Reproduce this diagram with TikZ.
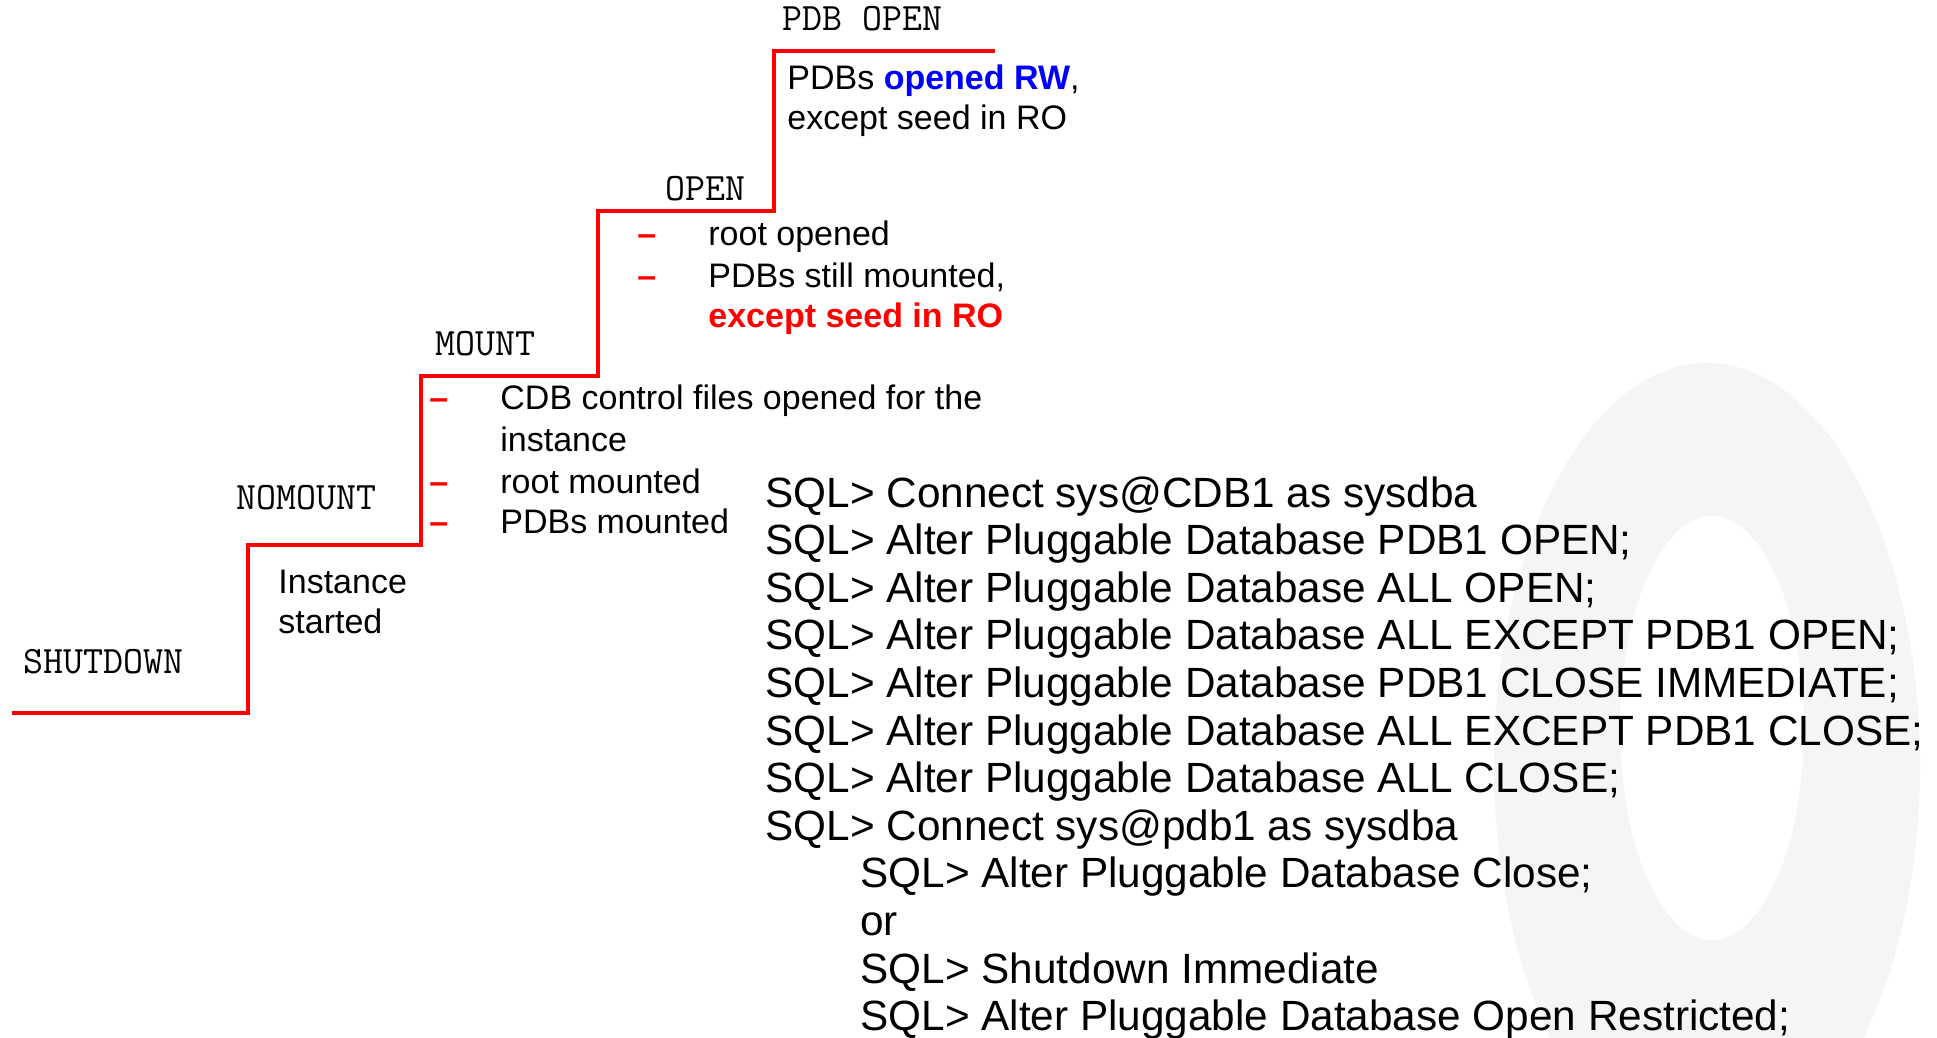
\documentclass[tikz,border=0pt]{standalone}
\usepackage{fontspec}
\setmainfont{Liberation Sans}
\usetikzlibrary{positioning}

\begin{document}
\begin{tikzpicture}[
    x=0.5pt, y=-0.5pt,
    stair/.style={draw=red, line width=1.75pt},
    stage/.style={anchor=base west, inner sep=0pt, font=\ttfamily\fontsize{19.4}{22}\selectfont},
    note/.style={anchor=base west, inner sep=0pt, font=\fontsize{17}{20}\selectfont},
    bullet/.style={note, text=red, font=\fontsize{17}{20}\selectfont\bfseries},
    sql/.style={anchor=base west, inner sep=0pt, font=\fontsize{21.15}{24}\selectfont},
    logo/.style={fill=black!4, draw=none, even odd rule}
  ]
    \useasboundingbox (0,0) rectangle (1937,1038);

    % faint watermark behind the commands
    \fill[logo] (1707,765) ellipse [x radius=213, y radius=402]
                (1712,728) ellipse [x radius=92, y radius=212];

    % the staircase
    \coordinate (s0) at (12,713);
    \coordinate (s1) at (248,713);
    \coordinate (s2) at (248,545);
    \coordinate (s3) at (421,545);
    \coordinate (s4) at (421,376);
    \coordinate (s5) at (598,376);
    \coordinate (s6) at (598,211);
    \coordinate (s7) at (774,211);
    \coordinate (s8) at (774,51);
    \coordinate (s9) at (995,51);
    \draw[stair] (s0) -- (s1) -- (s2) -- (s3) -- (s4) -- (s5) -- (s6) -- (s7) -- (s8) -- (s9);

    % stage names
    \node[stage] (shutdown) at (23,673) {SHUTDOWN};
    \node[stage] (nomount) at (236,509) {NOMOUNT};
    \node[stage] (mount) at (435,355) {MOUNT};
    \node[stage] (open) at (665,200) {OPEN};
    \node[stage] (pdbopen) at (782,31) {PDB OPEN};

    % nomount
    \node[note] (inst1) at (278,593) {Instance};
    \node[note] (inst2) at (278,633) {started};

    % mount
    \node[bullet] (md1) at (429,409) {--};
    \node[note] (mt1) at (500,409) {CDB control files opened for the};
    \node[note] (mt2) at (500,451) {instance};
    \node[bullet] (md3) at (429,493) {--};
    \node[note] (mt3) at (500,493) {root mounted};
    \node[bullet] (md4) at (429,533) {--};
    \node[note] (mt4) at (500,533) {PDBs mounted};

    % open
    \node[bullet] (od1) at (637,245) {--};
    \node[note] (ot1) at (708,245) {root opened};
    \node[bullet] (od2) at (637,287) {--};
    \node[note] (ot2) at (708,287) {PDBs still mounted,};
    \node[note, text=red, font=\fontsize{17}{20}\selectfont\bfseries] (ot3) at (708,327) {except seed in RO};

    % pdb open
    \node[note] (pt1) at (787,90) {PDBs \textcolor{blue}{\bfseries opened RW},};
    \node[note] (pt2) at (787,130) {except seed in RO};

    % commands
    \foreach \cmd [count=\i from 0] in {
        SQL> Connect sys@CDB1 as sysdba,
        SQL> Alter Pluggable Database PDB1 OPEN;,
        SQL> Alter Pluggable Database ALL OPEN;,
        SQL> Alter Pluggable Database ALL EXCEPT PDB1 OPEN;,
        SQL> Alter Pluggable Database PDB1 CLOSE IMMEDIATE;,
        SQL> Alter Pluggable Database ALL EXCEPT PDB1 CLOSE;,
        SQL> Alter Pluggable Database ALL CLOSE;,
        SQL> Connect sys@pdb1 as sysdba}
      \node[sql] (sql\i) at (765,{507+47.6*\i}) {\cmd};
    \foreach \cmd [count=\i from 8] in {
        SQL> Alter Pluggable Database Close;,
        or,
        SQL> Shutdown Immediate,
        SQL> Alter Pluggable Database Open Restricted;}
      \node[sql] (sql\i) at (860,{507+47.6*\i}) {\cmd};
  \end{tikzpicture}
\end{document}
